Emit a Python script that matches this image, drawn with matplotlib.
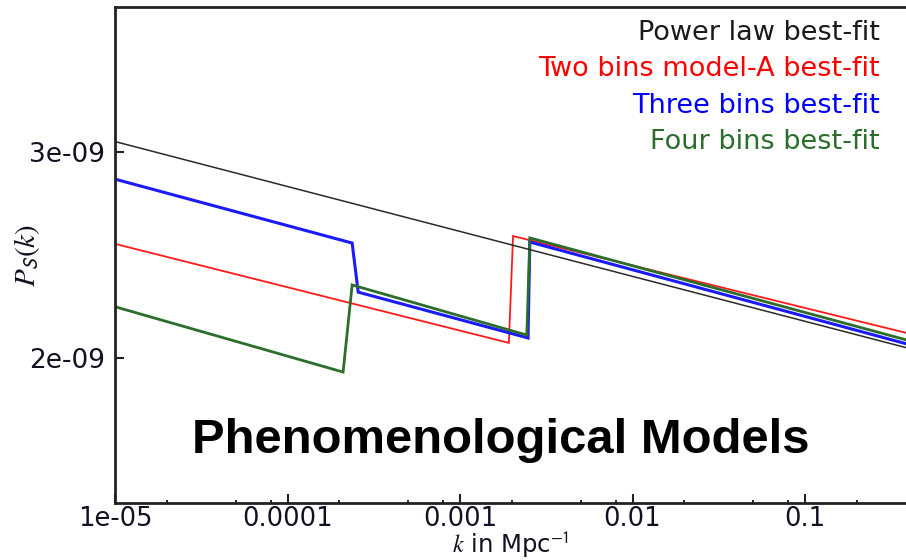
import matplotlib
matplotlib.use("Agg")
import matplotlib.pyplot as plt
from matplotlib.ticker import FixedLocator, FixedFormatter, LogLocator, NullFormatter, NullLocator

# Primordial power spectrum P_S(k) for the best-fit models (vertices of each curve)
power_k = [1e-5, 0.385]
power_P = [3.052e-9, 2.049e-9]

two_bins_k = [1e-5, 1.92e-3, 2.03e-3, 0.385]
two_bins_P = [2.554e-9, 2.072e-9, 2.592e-9, 2.121e-9]

three_bins_k = [1e-5, 2.37e-4, 2.57e-4, 2.48e-3, 2.54e-3, 0.385]
three_bins_P = [2.869e-9, 2.558e-9, 2.319e-9, 2.096e-9, 2.563e-9, 2.068e-9]

four_bins_k = [1e-5, 2.10e-4, 2.37e-4, 2.44e-3, 2.54e-3, 0.385]
four_bins_P = [2.248e-9, 1.930e-9, 2.354e-9, 2.110e-9, 2.583e-9, 2.087e-9]

legend_labels = ["Power law best-fit", "Two bins model-A best-fit",
                 "Three bins best-fit", "Four bins best-fit"]

x_tick_values = [1e-5, 1e-4, 1e-3, 1e-2, 1e-1]
x_tick_labels = ["1e-05", "0.0001", "0.001", "0.01", "0.1"]
y_tick_values = [2e-9, 3e-9]
y_tick_labels = ["2e-09", "3e-09"]

title_text = "Phenomenological Models"

plt.rcParams["font.family"] = ["DejaVu Sans"]
plt.rcParams["mathtext.fontset"] = "stix"

BLACK = "#2a2a2a"
RED = "#ff1a1a"
BLUE = "#1a1aff"
GREEN = "#2b6e2b"

fig = plt.figure(figsize=(9.06, 5.6), dpi=100)
ax = fig.add_axes([115 / 906, 57 / 560, 791 / 906, 496 / 560])
ax.set_xscale("log")
ax.set_xlim(1e-5, 0.385)
ax.set_ylim(1.2926e-9, 3.707e-9)

ax.plot(two_bins_k, two_bins_P, color=RED, lw=1.3, solid_joinstyle="miter")
ax.plot(three_bins_k, three_bins_P, color=BLUE, lw=2.2, solid_joinstyle="miter")
ax.plot(four_bins_k, four_bins_P, color=GREEN, lw=2.0, solid_joinstyle="miter")
ax.plot(power_k, power_P, color=BLACK, lw=1.1)

# axes styling
for side in ("left", "bottom", "top"):
    ax.spines[side].set_linewidth(2.0)
    ax.spines[side].set_color("#222222")
ax.spines["right"].set_visible(False)

ax.xaxis.set_major_locator(FixedLocator(x_tick_values))
ax.xaxis.set_major_formatter(FixedFormatter(x_tick_labels))
ax.xaxis.set_minor_locator(LogLocator(base=10, subs=(2, 5, 8), numticks=20))
ax.xaxis.set_minor_formatter(NullFormatter())
ax.yaxis.set_major_locator(FixedLocator(y_tick_values))
ax.yaxis.set_major_formatter(FixedFormatter(y_tick_labels))
ax.yaxis.set_minor_locator(NullLocator())

ax.tick_params(which="both", direction="in", top=False, right=False,
               color="#222222", labelcolor="#111122")
ax.tick_params(which="major", length=6.5, width=1.5, labelsize=19)
ax.tick_params(which="minor", length=2.5, width=1.4)
ax.tick_params(axis="x", which="major", pad=2, labelsize=18.5)
ax.tick_params(axis="y", which="major", pad=7)

ax.set_xlabel(r"$k$ in Mpc$^{\mathsf{-1}}$", fontsize=17.5, va="top", color="#111122")
ax.xaxis.set_label_coords(0.5, -0.0545)
ax.set_ylabel(r"$P_{\mathsf{S}}(k)$", fontsize=21, va="center", color="#111122")
ax.yaxis.set_label_coords(-0.111, 0.5)

# model labels in the upper right corner
label_colors = ["#1a1a1a", "#ff0000", "#0000ff", GREEN]
for i, (lab, col) in enumerate(zip(legend_labels, label_colors)):
    ax.text(0.967, 0.9476 - i * 0.0732, lab, color=col, fontsize=19.5,
            ha="right", va="center", transform=ax.transAxes)

ax.text(0.488, 0.1008, title_text, fontsize=35.3, fontweight="bold",
        family="Liberation Sans", color="black",
        ha="center", va="baseline", transform=ax.transAxes)

fig.savefig("out.png", dpi=100)
